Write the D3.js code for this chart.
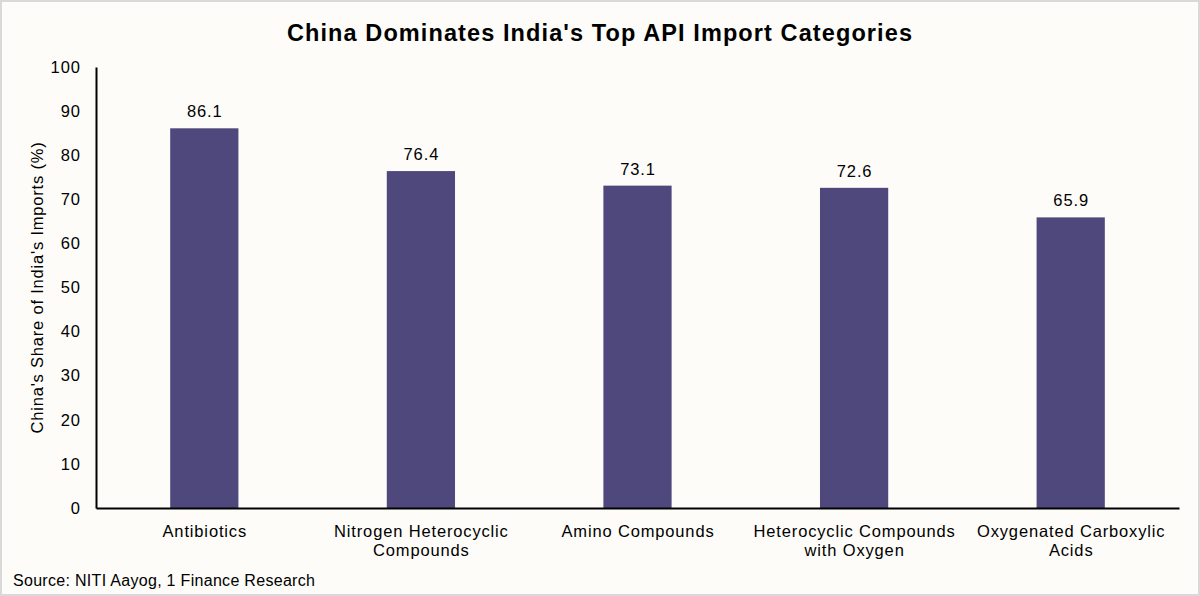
<!DOCTYPE html>
<html>
<head>
<meta charset="utf-8">
<script src="https://cdn.jsdelivr.net/npm/d3@7"></script>
<style>
  body { margin: 0; background: #ffffff; }
  svg { display: block; font-family: "Liberation Sans", Arial, sans-serif; }
</style>
</head>
<body>
<div id="chart"></div>
<script>
// chart data
var categories = [
  ["Antibiotics"],
  ["Nitrogen Heterocyclic", "Compounds"],
  ["Amino Compounds"],
  ["Heterocyclic Compounds", "with Oxygen"],
  ["Oxygenated Carboxylic", "Acids"]
];
var shareValues = [86.1, 76.4, 73.1, 72.6, 65.9];
var yTicks = [0, 10, 20, 30, 40, 50, 60, 70, 80, 90, 100];

var svgWidth = 1200;
var svgHeight = 596;

var chartMargin = { top: 67, right: 21, bottom: 88, left: 96 };
var chartWidth = svgWidth - chartMargin.left - chartMargin.right;
var chartHeight = svgHeight - chartMargin.top - chartMargin.bottom;

var svg = d3.select("#chart")
  .append("svg")
  .attr("width", svgWidth)
  .attr("height", svgHeight);

// background + frame
svg.append("rect")
  .attr("x", 1).attr("y", 1)
  .attr("width", svgWidth - 2).attr("height", svgHeight - 2)
  .attr("fill", "#fdfcf8")
  .attr("stroke", "#d9d9d9")
  .attr("stroke-width", 2);

svg.append("text")
  .attr("x", svgWidth / 2)
  .attr("y", 41)
  .attr("text-anchor", "middle")
  .attr("font-size", "23.5px")
  .attr("letter-spacing", "1.1px")
  .attr("font-weight", "bold")
  .attr("fill", "#000")
  .text("China Dominates India's Top API Import Categories");

var chartGroup = svg.append("g")
  .attr("transform", `translate(${chartMargin.left}, ${chartMargin.top})`);

var data = categories.map(function(c, i) {
  return { name: c.join(" "), lines: c, value: shareValues[i] };
});

var xBandScale = d3.scaleBand()
  .domain(data.map(d => d.name))
  .range([0, chartWidth])
  .padding(0);

var yLinearScale = d3.scaleLinear()
  .domain([0, 100])
  .range([chartHeight, 0]);

var barWidth = xBandScale.bandwidth() * 0.315;

// left axis
var leftAxis = d3.axisLeft(yLinearScale).tickValues(yTicks).tickSize(0).tickPadding(15);
var yAxisG = chartGroup.append("g").call(leftAxis);
yAxisG.select(".domain").attr("stroke", "#000").attr("stroke-width", 2);
yAxisG.selectAll("text")
  .attr("font-size", "16.5px")
  .attr("letter-spacing", "1px")
  .attr("fill", "#000")
  .attr("font-family", "Liberation Sans, Arial, sans-serif");

// bars
chartGroup.selectAll(".bar")
  .data(data)
  .enter()
  .append("rect")
  .attr("class", "bar")
  .attr("x", d => xBandScale(d.name) + (xBandScale.bandwidth() - barWidth) / 2)
  .attr("y", d => yLinearScale(d.value))
  .attr("width", barWidth)
  .attr("height", d => chartHeight - yLinearScale(d.value))
  .attr("fill", "#4f487c");

// value labels
chartGroup.selectAll(".vlabel")
  .data(data)
  .enter()
  .append("text")
  .attr("x", d => xBandScale(d.name) + xBandScale.bandwidth() / 2 + 0.5)
  .attr("y", d => yLinearScale(d.value) - 11)
  .attr("text-anchor", "middle")
  .attr("font-size", "16.5px")
  .attr("letter-spacing", "0.9px")
  .attr("fill", "#000")
  .text(d => d.value.toFixed(1));

// bottom axis
var bottomAxis = d3.axisBottom(xBandScale).tickSize(0).tickFormat("");
var xAxisG = chartGroup.append("g")
  .attr("transform", `translate(0, ${chartHeight})`)
  .call(bottomAxis);
xAxisG.select(".domain").attr("stroke", "#000").attr("stroke-width", 2);

// category labels (wrapped)
var catText = chartGroup.selectAll(".clabel")
  .data(data)
  .enter()
  .append("text")
  .attr("class", "clabel")
  .attr("text-anchor", "middle")
  .attr("font-size", "16.5px")
  .attr("letter-spacing", "0.85px")
  .attr("fill", "#000");
catText.each(function(d) {
  var t = d3.select(this);
  d.lines.forEach(function(line, i) {
    t.append("tspan")
      .attr("x", xBandScale(d.name) + xBandScale.bandwidth() / 2 + 0.5)
      .attr("y", chartHeight + 29 + i * 19)
      .text(line);
  });
});

// y axis title
svg.append("text")
  .attr("transform", "rotate(-90)")
  .attr("x", -(chartMargin.top + chartHeight / 2))
  .attr("y", 43)
  .attr("text-anchor", "middle")
  .attr("font-size", "16.5px")
  .attr("letter-spacing", "0.8px")
  .attr("fill", "#000")
  .text("China's Share of India's Imports (%)");

// source
svg.append("text")
  .attr("x", 13)
  .attr("y", 586)
  .attr("font-size", "16px")
  .attr("letter-spacing", "0.3px")
  .attr("fill", "#000")
  .text("Source: NITI Aayog, 1 Finance Research");
</script>
</body>
</html>
